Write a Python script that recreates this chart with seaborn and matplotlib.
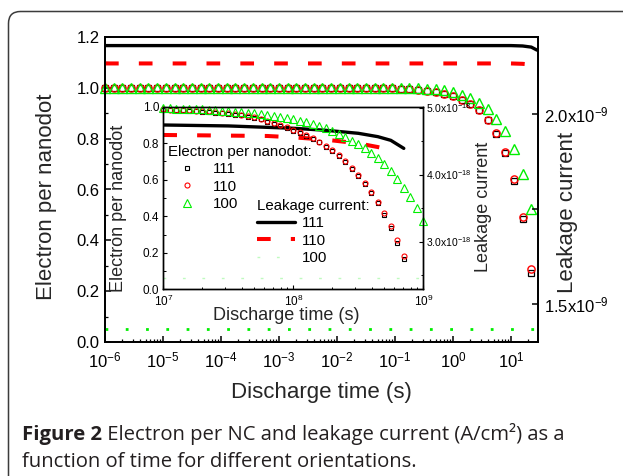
import numpy as np
import matplotlib
matplotlib.use("Agg")
import matplotlib.pyplot as plt
import seaborn as sns
from matplotlib.patches import FancyBboxPatch
from matplotlib.ticker import LogLocator, FixedLocator, FuncFormatter, MultipleLocator, NullFormatter

# ---- main plot data (time exponents, log10 s) ----
main_exp = [-6.00, -5.85, -5.70, -5.55, -5.40, -5.25, -5.10, -4.95, -4.80, -4.65,
            -4.50, -4.35, -4.20, -4.05, -3.90, -3.75, -3.60, -3.45, -3.30, -3.15,
            -3.00, -2.85, -2.70, -2.55, -2.40, -2.25, -2.10, -1.95, -1.80, -1.65,
            -1.50, -1.35, -1.20, -1.05, -0.90, -0.75, -0.60, -0.45, -0.30, -0.15,
            0.00, 0.15, 0.30, 0.45, 0.60, 0.75, 0.90, 1.05, 1.20, 1.35]
main_e111 = [1.0, 1.0, 1.0, 1.0, 1.0, 1.0, 1.0, 1.0, 1.0, 1.0,
             1.0, 1.0, 1.0, 1.0, 1.0, 1.0, 1.0, 1.0, 1.0, 1.0,
             1.0, 1.0, 1.0, 1.0, 1.0, 1.0, 1.0, 1.0, 1.0, 1.0,
             1.0, 1.0, 0.999, 0.998, 0.997, 0.995, 0.992, 0.989, 0.985, 0.975,
             0.966, 0.953, 0.937, 0.912, 0.873, 0.819, 0.742, 0.632, 0.484, 0.272]
main_e110 = [1.0, 1.0, 1.0, 1.0, 1.0, 1.0, 1.0, 1.0, 1.0, 1.0,
             1.0, 1.0, 1.0, 1.0, 1.0, 1.0, 1.0, 1.0, 1.0, 1.0,
             1.0, 1.0, 1.0, 1.0, 1.0, 1.0, 1.0, 1.0, 1.0, 1.0,
             1.0, 1.0, 0.999, 0.998, 0.997, 0.995, 0.992, 0.989, 0.985, 0.975,
             0.966, 0.953, 0.937, 0.913, 0.875, 0.822, 0.746, 0.640, 0.493, 0.286]
main_e100 = [1.0, 1.0, 1.0, 1.0, 1.0, 1.0, 1.0, 1.0, 1.0, 1.0,
             1.0, 1.0, 1.0, 1.0, 1.0, 1.0, 1.0, 1.0, 1.0, 1.0,
             1.0, 1.0, 1.0, 1.0, 1.0, 1.0, 1.0, 1.0, 1.0, 1.0,
             1.0, 1.0, 1.0, 1.0, 1.0, 1.0, 0.998, 0.997, 0.995, 0.990,
             0.985, 0.972, 0.959, 0.942, 0.916, 0.879, 0.832, 0.761, 0.661, 0.522]

# leakage current, main plot (x1e-9 A/cm2)
leak_main_exp = [-6.0, 1.0, 1.2, 1.35, 1.45]
leak111_main = [2.180, 2.180, 2.179, 2.176, 2.168]
leak110_main = [2.133, 2.133, 2.132, 2.130, 2.124]
leak100_main = [1.434, 1.434, 1.434, 1.434, 1.434]

# ---- inset data ----
ins_exp = [7.00, 7.05, 7.10, 7.15, 7.20, 7.25, 7.30, 7.35, 7.40, 7.45,
           7.50, 7.55, 7.60, 7.65, 7.70, 7.75, 7.80, 7.85, 7.90, 7.95,
           8.00, 8.05, 8.10, 8.15, 8.20, 8.25, 8.30, 8.35, 8.40, 8.45,
           8.50, 8.55, 8.60, 8.65, 8.70, 8.75, 8.80, 8.85, 8.90, 8.95, 9.00]
ins_e110 = [0.985, 0.984, 0.983, 0.982, 0.980, 0.978, 0.976, 0.974, 0.971, 0.968,
            0.964, 0.960, 0.955, 0.950, 0.944, 0.935, 0.922, 0.910, 0.899, 0.887,
            0.872, 0.859, 0.845, 0.827, 0.808, 0.786, 0.763, 0.735, 0.704, 0.666,
            0.626, 0.584, 0.535, 0.480, 0.416, 0.347, 0.270, 0.184]
ins_e111 = [0.983, 0.982, 0.981, 0.980, 0.978, 0.976, 0.973, 0.971, 0.968, 0.965,
            0.961, 0.957, 0.952, 0.946, 0.940, 0.931, 0.918, 0.906, 0.895, 0.883,
            0.868, 0.855, 0.841, 0.823, 0.804, 0.782, 0.759, 0.730, 0.699, 0.661,
            0.620, 0.578, 0.528, 0.472, 0.405, 0.335, 0.255, 0.164]
ins_e100 = [0.992, 0.991, 0.990, 0.989, 0.988, 0.986, 0.985, 0.983, 0.981, 0.979,
            0.976, 0.973, 0.970, 0.967, 0.963, 0.959, 0.955, 0.950, 0.945, 0.939,
            0.932, 0.924, 0.916, 0.905, 0.894, 0.882, 0.866, 0.852, 0.836, 0.814,
            0.794, 0.772, 0.745, 0.717, 0.686, 0.648, 0.604, 0.557, 0.504, 0.443, 0.376]

# leakage current, inset (x1e-18 A/cm2)
leak111_ins_exp = [7.0, 7.5, 8.0, 8.25, 8.5, 8.65, 8.75, 8.85]
leak111_ins = [4.739, 4.725, 4.690, 4.660, 4.615, 4.565, 4.510, 4.390]
leak110_ins_exp = [7.0, 7.8, 8.0, 8.25, 8.5, 8.65, 8.77]
leak110_ins = [4.590, 4.575, 4.555, 4.520, 4.465, 4.410, 4.360]
leak100_ins_exp = [7.0, 9.0]
leak100_ins = [2.45, 2.45]

labels_orient = ["111", "110", "100"]
caption_bold = "Figure 2"
caption_1 = " Electron per NC and leakage current (A/cm\u00b2) as a"
caption_2 = "function of time for different orientations."


def t(e):
    return np.power(10.0, np.array(e))


sns.set_theme(style="white")
plt.rcParams['font.family'] = ['Liberation Sans', 'DejaVu Sans']
plt.rcParams['mathtext.fontset'] = 'custom'
plt.rcParams['mathtext.rm'] = 'Liberation Sans'
plt.rcParams['mathtext.it'] = 'Liberation Sans:italic'
plt.rcParams['mathtext.bf'] = 'Liberation Sans:bold'
plt.rcParams['mathtext.default'] = 'regular'
plt.rcParams['axes.edgecolor'] = 'black'
plt.rcParams['text.color'] = 'black'
plt.rcParams['xtick.color'] = 'black'
plt.rcParams['ytick.color'] = 'black'

fig = plt.figure(figsize=(6.23, 4.76), dpi=100)
W, H = 623.0, 476.0

# rounded frame around figure + caption
bg = fig.add_axes([0, 0, 1, 1])
bg.set_xlim(0, W)
bg.set_ylim(H, 0)
bg.axis('off')
bg.add_patch(FancyBboxPatch((8.5, 11.5), 700, 480, boxstyle="round,pad=0,rounding_size=12",
                            fc='white', ec='#3c3c3c', lw=1.1))


def px_rect(x0, y0, x1, y1):
    return [x0 / W, 1 - y1 / H, (x1 - x0) / W, (y1 - y0) / H]


# ---------------- main axes ----------------
ax = fig.add_axes(px_rect(105, 37, 538, 342))
ax.set_xscale('log')
ax2 = ax.twinx()

mk = dict(linestyle='', clip_on=False, legend=False)
sns.lineplot(x=t(main_exp), y=main_e111, ax=ax, marker='s', markersize=4.2,
             markerfacecolor='none', markeredgecolor='black', markeredgewidth=0.9, color='black', **mk)
sns.lineplot(x=t(main_exp), y=main_e110, ax=ax, marker='o', markersize=5.2,
             markerfacecolor='none', markeredgecolor='red', markeredgewidth=1.0, color='red', **mk)
sns.lineplot(x=t(main_exp), y=main_e100, ax=ax, marker='^', markersize=7.5,
             markerfacecolor='none', markeredgecolor='#00ee00', markeredgewidth=1.0, color='#00ee00', **mk)

sns.lineplot(x=t(leak_main_exp), y=leak111_main, ax=ax2, color='black', linewidth=2.4, legend=False)
sns.lineplot(x=t(leak_main_exp), y=leak110_main, ax=ax2, color='red', linewidth=2.9,
             linestyle=(0, (3.4, 5.0)), legend=False)
sns.lineplot(x=t(leak_main_exp), y=leak100_main, ax=ax2, color='#00ee00', linewidth=2.0,
             linestyle=(0, (1.0, 6.3)), legend=False)

ax.set_xlim(1e-6, 10 ** 1.466)
ax.set_ylim(0, 1.2)
ax2.set_ylim(1.4, 2.2026)
ax.xaxis.set_major_locator(LogLocator(base=10, numticks=20))
ax.xaxis.set_minor_locator(LogLocator(base=10, subs=np.arange(2, 10), numticks=200))
ax.xaxis.set_minor_formatter(NullFormatter())
ax.yaxis.set_major_locator(MultipleLocator(0.2))
ax.yaxis.set_minor_locator(MultipleLocator(0.1))
ax.yaxis.set_major_formatter(FuncFormatter(lambda v, p: f"{v:.1f}"))
ax2.yaxis.set_major_locator(FixedLocator([1.5, 2.0]))
ax2.yaxis.set_minor_locator(FixedLocator([1.75]))
ax2.yaxis.set_major_formatter(FuncFormatter(lambda v, p: f"{v:.1f}x$10^{{-9}}$"))

for a in (ax, ax2):
    for s in a.spines.values():
        s.set_linewidth(1.3)
ax.tick_params(axis='x', which='both', direction='in', bottom=True, top=False, labelsize=12, pad=6)
ax.tick_params(axis='y', which='both', direction='in', left=True, right=False, labelsize=12, pad=4)
ax.tick_params(which='major', length=4, width=1.1)
ax.tick_params(which='minor', length=2.3, width=0.9)
ax2.tick_params(axis='y', which='both', direction='in', right=True, left=False, labelsize=12, pad=4)
ax2.tick_params(which='major', length=4, width=1.1)
ax2.tick_params(which='minor', length=4, width=1.1)

ax.set_xlabel("Discharge time (s)", fontsize=16)
ax.xaxis.label.set_va('center')
ax.xaxis.set_label_coords(0.5, -0.167)
ax.set_ylabel("Electron per nanodot", fontsize=16)
ax.yaxis.label.set_va('center')
ax.yaxis.set_label_coords(-0.136, 0.475)
ax2.set_ylabel("Leakage current", fontsize=16)
ax2.yaxis.label.set_va('center')
ax2.yaxis.set_label_coords(1.069, 0.426)

# ---------------- inset ----------------
axr = fig.add_axes(px_rect(163.3, 106.7, 423.3, 289.3))
axr.set_xscale('log')
axr.set_facecolor('white')
axl = axr.twinx()
axl.yaxis.tick_left()
axl.yaxis.set_label_position('left')
axr.yaxis.tick_right()
axr.yaxis.set_label_position('right')

sns.lineplot(x=t(leak111_ins_exp), y=leak111_ins, ax=axr, color='black', linewidth=2.4, legend=False)
sns.lineplot(x=t(leak110_ins_exp), y=leak110_ins, ax=axr, color='red', linewidth=2.9,
             linestyle=(0, (3.4, 5.0)), legend=False)
sns.lineplot(x=t(leak100_ins_exp), y=leak100_ins, ax=axr, color='#00ee00', linewidth=1.0, alpha=0.25,
             linestyle=(0, (2.0, 12.0)), legend=False)

sns.lineplot(x=t(ins_exp[:len(ins_e111)]), y=ins_e111, ax=axl, marker='s', markersize=3.0,
             markerfacecolor='none', markeredgecolor='black', markeredgewidth=0.8, color='black', **mk)
sns.lineplot(x=t(ins_exp[:len(ins_e110)]), y=ins_e110, ax=axl, marker='o', markersize=3.6,
             markerfacecolor='none', markeredgecolor='red', markeredgewidth=0.8, color='red', **mk)
sns.lineplot(x=t(ins_exp), y=ins_e100, ax=axl, marker='^', markersize=5.5,
             markerfacecolor='none', markeredgecolor='#00ee00', markeredgewidth=0.8, color='#00ee00', **mk)

axr.set_xlim(1e7, 1e9)
axl.set_ylim(0, 1.0)
axr.set_ylim(2.287, 5.012)
axr.xaxis.set_major_locator(LogLocator(base=10, numticks=10))
axr.xaxis.set_minor_locator(LogLocator(base=10, subs=np.arange(2, 10), numticks=100))
axr.xaxis.set_minor_formatter(NullFormatter())
axl.yaxis.set_major_locator(MultipleLocator(0.2))
axl.yaxis.set_minor_locator(MultipleLocator(0.1))
axl.yaxis.set_major_formatter(FuncFormatter(lambda v, p: f"{v:.1f}"))
axr.yaxis.set_major_locator(FixedLocator([3.0, 4.0, 5.0]))
axr.yaxis.set_minor_locator(FixedLocator([2.5, 3.5, 4.5]))
axr.yaxis.set_major_formatter(FuncFormatter(lambda v, p: f"{v:.1f}x$10^{{-18}}$"))

for a in (axr, axl):
    for s in a.spines.values():
        s.set_linewidth(1.0)
axr.tick_params(axis='x', which='both', direction='in', bottom=True, top=False, labelsize=8.5, pad=3)
axr.tick_params(axis='y', which='both', direction='in', right=True, left=False, labelsize=7.5, pad=2)
axl.tick_params(axis='y', which='both', direction='in', left=True, right=False, labelsize=8.5, pad=3)
for a in (axr, axl):
    a.tick_params(which='major', length=3, width=0.8)
    a.tick_params(which='minor', length=1.8, width=0.7)

axr.set_xlabel("Discharge time (s)", fontsize=13)
axr.xaxis.label.set_va('center')
axr.xaxis.set_label_coords(0.471, -0.141)
axl.set_ylabel("Electron per nanodot", fontsize=13)
axl.yaxis.label.set_va('center')
axl.yaxis.set_label_coords(-0.174, 0.445)
axr.set_ylabel("Leakage current", fontsize=13)
axr.yaxis.label.set_va('center')
axr.yaxis.set_label_coords(1.23, 0.451)

# legends inside the inset
leg_kw = dict(frameon=False, fontsize=10.8, title_fontsize=10.8, alignment='left',
              handlelength=2.53, handletextpad=0.45, labelspacing=0.22,
              borderpad=0, borderaxespad=0, loc='upper left', bbox_transform=fig.transFigure)
leg1 = axl.legend(handles=axl.lines[:3], labels=labels_orient, title="Electron per nanodot:",
                  bbox_to_anchor=(168 / W, 1 - 145 / H), **leg_kw)
axl.add_artist(leg1)
leg2 = axl.legend(handles=axr.lines[:3], labels=labels_orient, title="Leakage current:",
                  bbox_to_anchor=(257 / W, 1 - 199 / H), **leg_kw)

# caption
cap_kw = dict(fontsize=14.6, family=['Open Sans', 'DejaVu Sans'], color='#231f20', va='bottom', ha='left')
t1 = fig.text(22 / W, 1 - 445 / H, caption_bold, fontweight='bold', **cap_kw)
bg.annotate(caption_1, xy=(1, 0), xycoords=t1, **cap_kw)
fig.text(22 / W, 1 - 472 / H, caption_2, **cap_kw)

fig.savefig("out.png", dpi=100)
